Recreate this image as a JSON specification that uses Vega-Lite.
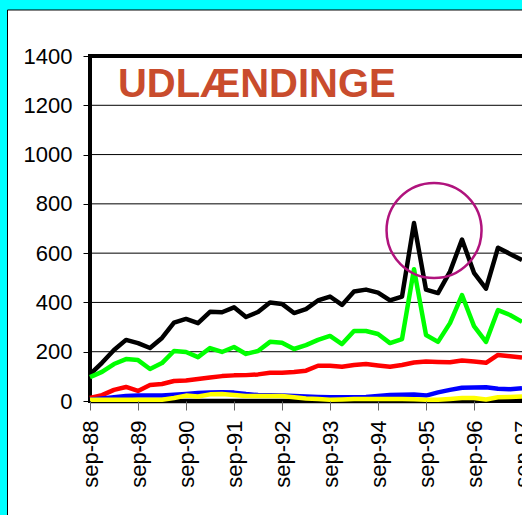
{
  "$schema": "https://vega.github.io/schema/vega-lite/v6.json",
  "width": 432,
  "height": 345,
  "autosize": {"type": "none"},
  "padding": {"left": 90, "top": 56, "right": 0, "bottom": 114},
  "background": "#00ffff",
  "config": {"view": {"stroke": null}, "font": "Liberation Sans"},
  "datasets": {
    "grid": [{"g": 200}, {"g": 400}, {"g": 600}, {"g": 800}, {"g": 1000}, {"g": 1200}],
    "serier": [
      {"serie": "sort", "kvartal": 0, "antal": 108}, {"serie": "sort", "kvartal": 1, "antal": 155}, {"serie": "sort", "kvartal": 2, "antal": 207}, {"serie": "sort", "kvartal": 3, "antal": 248}, {"serie": "sort", "kvartal": 4, "antal": 235}, {"serie": "sort", "kvartal": 5, "antal": 215}, {"serie": "sort", "kvartal": 6, "antal": 256}, {"serie": "sort", "kvartal": 7, "antal": 318}, {"serie": "sort", "kvartal": 8, "antal": 333}, {"serie": "sort", "kvartal": 9, "antal": 316}, {"serie": "sort", "kvartal": 10, "antal": 362}, {"serie": "sort", "kvartal": 11, "antal": 360}, {"serie": "sort", "kvartal": 12, "antal": 380}, {"serie": "sort", "kvartal": 13, "antal": 341}, {"serie": "sort", "kvartal": 14, "antal": 361}, {"serie": "sort", "kvartal": 15, "antal": 400}, {"serie": "sort", "kvartal": 16, "antal": 394}, {"serie": "sort", "kvartal": 17, "antal": 357}, {"serie": "sort", "kvartal": 18, "antal": 373}, {"serie": "sort", "kvartal": 19, "antal": 408}, {"serie": "sort", "kvartal": 20, "antal": 424}, {"serie": "sort", "kvartal": 21, "antal": 390}, {"serie": "sort", "kvartal": 22, "antal": 444}, {"serie": "sort", "kvartal": 23, "antal": 452}, {"serie": "sort", "kvartal": 24, "antal": 440}, {"serie": "sort", "kvartal": 25, "antal": 408}, {"serie": "sort", "kvartal": 26, "antal": 424}, {"serie": "sort", "kvartal": 27, "antal": 722}, {"serie": "sort", "kvartal": 28, "antal": 452}, {"serie": "sort", "kvartal": 29, "antal": 438}, {"serie": "sort", "kvartal": 30, "antal": 525}, {"serie": "sort", "kvartal": 31, "antal": 655}, {"serie": "sort", "kvartal": 32, "antal": 520}, {"serie": "sort", "kvartal": 33, "antal": 456}, {"serie": "sort", "kvartal": 34, "antal": 622}, {"serie": "sort", "kvartal": 35, "antal": 597}, {"serie": "sort", "kvartal": 36, "antal": 572},
      {"serie": "grøn", "kvartal": 0, "antal": 97}, {"serie": "grøn", "kvartal": 1, "antal": 118}, {"serie": "grøn", "kvartal": 2, "antal": 150}, {"serie": "grøn", "kvartal": 3, "antal": 170}, {"serie": "grøn", "kvartal": 4, "antal": 166}, {"serie": "grøn", "kvartal": 5, "antal": 130}, {"serie": "grøn", "kvartal": 6, "antal": 154}, {"serie": "grøn", "kvartal": 7, "antal": 203}, {"serie": "grøn", "kvartal": 8, "antal": 199}, {"serie": "grøn", "kvartal": 9, "antal": 178}, {"serie": "grøn", "kvartal": 10, "antal": 215}, {"serie": "grøn", "kvartal": 11, "antal": 199}, {"serie": "grøn", "kvartal": 12, "antal": 219}, {"serie": "grøn", "kvartal": 13, "antal": 191}, {"serie": "grøn", "kvartal": 14, "antal": 203}, {"serie": "grøn", "kvartal": 15, "antal": 240}, {"serie": "grøn", "kvartal": 16, "antal": 236}, {"serie": "grøn", "kvartal": 17, "antal": 211}, {"serie": "grøn", "kvartal": 18, "antal": 227}, {"serie": "grøn", "kvartal": 19, "antal": 248}, {"serie": "grøn", "kvartal": 20, "antal": 264}, {"serie": "grøn", "kvartal": 21, "antal": 231}, {"serie": "grøn", "kvartal": 22, "antal": 284}, {"serie": "grøn", "kvartal": 23, "antal": 284}, {"serie": "grøn", "kvartal": 24, "antal": 272}, {"serie": "grøn", "kvartal": 25, "antal": 235}, {"serie": "grøn", "kvartal": 26, "antal": 251}, {"serie": "grøn", "kvartal": 27, "antal": 535}, {"serie": "grøn", "kvartal": 28, "antal": 268}, {"serie": "grøn", "kvartal": 29, "antal": 240}, {"serie": "grøn", "kvartal": 30, "antal": 316}, {"serie": "grøn", "kvartal": 31, "antal": 430}, {"serie": "grøn", "kvartal": 32, "antal": 304}, {"serie": "grøn", "kvartal": 33, "antal": 240}, {"serie": "grøn", "kvartal": 34, "antal": 369}, {"serie": "grøn", "kvartal": 35, "antal": 349}, {"serie": "grøn", "kvartal": 36, "antal": 321},
      {"serie": "rød", "kvartal": 0, "antal": 12}, {"serie": "rød", "kvartal": 1, "antal": 24}, {"serie": "rød", "kvartal": 2, "antal": 45}, {"serie": "rød", "kvartal": 3, "antal": 57}, {"serie": "rød", "kvartal": 4, "antal": 41}, {"serie": "rød", "kvartal": 5, "antal": 65}, {"serie": "rød", "kvartal": 6, "antal": 69}, {"serie": "rød", "kvartal": 7, "antal": 81}, {"serie": "rød", "kvartal": 8, "antal": 83}, {"serie": "rød", "kvartal": 9, "antal": 89}, {"serie": "rød", "kvartal": 10, "antal": 95}, {"serie": "rød", "kvartal": 11, "antal": 101}, {"serie": "rød", "kvartal": 12, "antal": 104}, {"serie": "rød", "kvartal": 13, "antal": 105}, {"serie": "rød", "kvartal": 14, "antal": 108}, {"serie": "rød", "kvartal": 15, "antal": 115}, {"serie": "rød", "kvartal": 16, "antal": 115}, {"serie": "rød", "kvartal": 17, "antal": 118}, {"serie": "rød", "kvartal": 18, "antal": 123}, {"serie": "rød", "kvartal": 19, "antal": 143}, {"serie": "rød", "kvartal": 20, "antal": 143}, {"serie": "rød", "kvartal": 21, "antal": 139}, {"serie": "rød", "kvartal": 22, "antal": 146}, {"serie": "rød", "kvartal": 23, "antal": 150}, {"serie": "rød", "kvartal": 24, "antal": 144}, {"serie": "rød", "kvartal": 25, "antal": 139}, {"serie": "rød", "kvartal": 26, "antal": 146}, {"serie": "rød", "kvartal": 27, "antal": 156}, {"serie": "rød", "kvartal": 28, "antal": 160}, {"serie": "rød", "kvartal": 29, "antal": 158}, {"serie": "rød", "kvartal": 30, "antal": 157}, {"serie": "rød", "kvartal": 31, "antal": 164}, {"serie": "rød", "kvartal": 32, "antal": 160}, {"serie": "rød", "kvartal": 33, "antal": 155}, {"serie": "rød", "kvartal": 34, "antal": 187}, {"serie": "rød", "kvartal": 35, "antal": 182}, {"serie": "rød", "kvartal": 36, "antal": 176},
      {"serie": "blå", "kvartal": 0, "antal": 5}, {"serie": "blå", "kvartal": 1, "antal": 10}, {"serie": "blå", "kvartal": 2, "antal": 15}, {"serie": "blå", "kvartal": 3, "antal": 20}, {"serie": "blå", "kvartal": 4, "antal": 22}, {"serie": "blå", "kvartal": 5, "antal": 22}, {"serie": "blå", "kvartal": 6, "antal": 22}, {"serie": "blå", "kvartal": 7, "antal": 25}, {"serie": "blå", "kvartal": 8, "antal": 28}, {"serie": "blå", "kvartal": 9, "antal": 32}, {"serie": "blå", "kvartal": 10, "antal": 35}, {"serie": "blå", "kvartal": 11, "antal": 36}, {"serie": "blå", "kvartal": 12, "antal": 34}, {"serie": "blå", "kvartal": 13, "antal": 28}, {"serie": "blå", "kvartal": 14, "antal": 24}, {"serie": "blå", "kvartal": 15, "antal": 23}, {"serie": "blå", "kvartal": 16, "antal": 22}, {"serie": "blå", "kvartal": 17, "antal": 20}, {"serie": "blå", "kvartal": 18, "antal": 18}, {"serie": "blå", "kvartal": 19, "antal": 16}, {"serie": "blå", "kvartal": 20, "antal": 15}, {"serie": "blå", "kvartal": 21, "antal": 15}, {"serie": "blå", "kvartal": 22, "antal": 15}, {"serie": "blå", "kvartal": 23, "antal": 16}, {"serie": "blå", "kvartal": 24, "antal": 20}, {"serie": "blå", "kvartal": 25, "antal": 24}, {"serie": "blå", "kvartal": 26, "antal": 25}, {"serie": "blå", "kvartal": 27, "antal": 26}, {"serie": "blå", "kvartal": 28, "antal": 22}, {"serie": "blå", "kvartal": 29, "antal": 35}, {"serie": "blå", "kvartal": 30, "antal": 45}, {"serie": "blå", "kvartal": 31, "antal": 54}, {"serie": "blå", "kvartal": 32, "antal": 55}, {"serie": "blå", "kvartal": 33, "antal": 56}, {"serie": "blå", "kvartal": 34, "antal": 50}, {"serie": "blå", "kvartal": 35, "antal": 48}, {"serie": "blå", "kvartal": 36, "antal": 52},
      {"serie": "sort2", "kvartal": 0, "antal": 0}, {"serie": "sort2", "kvartal": 1, "antal": 0}, {"serie": "sort2", "kvartal": 2, "antal": 0}, {"serie": "sort2", "kvartal": 3, "antal": 0}, {"serie": "sort2", "kvartal": 4, "antal": 0}, {"serie": "sort2", "kvartal": 5, "antal": 0}, {"serie": "sort2", "kvartal": 6, "antal": 0}, {"serie": "sort2", "kvartal": 7, "antal": 0}, {"serie": "sort2", "kvartal": 8, "antal": 0}, {"serie": "sort2", "kvartal": 9, "antal": 0}, {"serie": "sort2", "kvartal": 10, "antal": 0}, {"serie": "sort2", "kvartal": 11, "antal": 0}, {"serie": "sort2", "kvartal": 12, "antal": 0}, {"serie": "sort2", "kvartal": 13, "antal": 0}, {"serie": "sort2", "kvartal": 14, "antal": 0}, {"serie": "sort2", "kvartal": 15, "antal": 0}, {"serie": "sort2", "kvartal": 16, "antal": 0}, {"serie": "sort2", "kvartal": 17, "antal": 0}, {"serie": "sort2", "kvartal": 18, "antal": 0}, {"serie": "sort2", "kvartal": 19, "antal": 0}, {"serie": "sort2", "kvartal": 20, "antal": 0}, {"serie": "sort2", "kvartal": 21, "antal": 0}, {"serie": "sort2", "kvartal": 22, "antal": 0}, {"serie": "sort2", "kvartal": 23, "antal": 0}, {"serie": "sort2", "kvartal": 24, "antal": 0}, {"serie": "sort2", "kvartal": 25, "antal": 0}, {"serie": "sort2", "kvartal": 26, "antal": 0}, {"serie": "sort2", "kvartal": 27, "antal": 0}, {"serie": "sort2", "kvartal": 28, "antal": 0}, {"serie": "sort2", "kvartal": 29, "antal": 0}, {"serie": "sort2", "kvartal": 30, "antal": 0}, {"serie": "sort2", "kvartal": 31, "antal": 0}, {"serie": "sort2", "kvartal": 32, "antal": 0}, {"serie": "sort2", "kvartal": 33, "antal": 2}, {"serie": "sort2", "kvartal": 34, "antal": 10}, {"serie": "sort2", "kvartal": 35, "antal": 6}, {"serie": "sort2", "kvartal": 36, "antal": 8},
      {"serie": "gul", "kvartal": 0, "antal": 5}, {"serie": "gul", "kvartal": 1, "antal": 5}, {"serie": "gul", "kvartal": 2, "antal": 5}, {"serie": "gul", "kvartal": 3, "antal": 5}, {"serie": "gul", "kvartal": 4, "antal": 5}, {"serie": "gul", "kvartal": 5, "antal": 5}, {"serie": "gul", "kvartal": 6, "antal": 5}, {"serie": "gul", "kvartal": 7, "antal": 12}, {"serie": "gul", "kvartal": 8, "antal": 22}, {"serie": "gul", "kvartal": 9, "antal": 18}, {"serie": "gul", "kvartal": 10, "antal": 27}, {"serie": "gul", "kvartal": 11, "antal": 28}, {"serie": "gul", "kvartal": 12, "antal": 24}, {"serie": "gul", "kvartal": 13, "antal": 20}, {"serie": "gul", "kvartal": 14, "antal": 20}, {"serie": "gul", "kvartal": 15, "antal": 20}, {"serie": "gul", "kvartal": 16, "antal": 20}, {"serie": "gul", "kvartal": 17, "antal": 15}, {"serie": "gul", "kvartal": 18, "antal": 10}, {"serie": "gul", "kvartal": 19, "antal": 8}, {"serie": "gul", "kvartal": 20, "antal": 5}, {"serie": "gul", "kvartal": 21, "antal": 6}, {"serie": "gul", "kvartal": 22, "antal": 8}, {"serie": "gul", "kvartal": 23, "antal": 8}, {"serie": "gul", "kvartal": 24, "antal": 8}, {"serie": "gul", "kvartal": 25, "antal": 8}, {"serie": "gul", "kvartal": 26, "antal": 8}, {"serie": "gul", "kvartal": 27, "antal": 7}, {"serie": "gul", "kvartal": 28, "antal": 5}, {"serie": "gul", "kvartal": 29, "antal": 5}, {"serie": "gul", "kvartal": 30, "antal": 8}, {"serie": "gul", "kvartal": 31, "antal": 12}, {"serie": "gul", "kvartal": 32, "antal": 12}, {"serie": "gul", "kvartal": 33, "antal": 6}, {"serie": "gul", "kvartal": 34, "antal": 15}, {"serie": "gul", "kvartal": 35, "antal": 16}, {"serie": "gul", "kvartal": 36, "antal": 18}
    ]
  },
  "layer": [
    {
      "data": {"values": [{}]},
      "mark": {"type": "rect", "fill": "white", "stroke": "black", "strokeWidth": 1, "clip": false},
      "encoding": {
        "x": {"datum": -6.875, "type": "quantitative", "scale": {"domain": [0, 36], "nice": false, "zero": false}, "title": null},
        "x2": {"datum": 60},
        "y": {"datum": 1586.7, "type": "quantitative", "scale": {"domain": [0, 1400], "nice": false, "zero": false}, "title": null},
        "y2": {"datum": -900}
      }
    },
    {
      "data": {"name": "grid"},
      "mark": {"type": "rule", "color": "black", "strokeWidth": 1, "clip": false},
      "encoding": {
        "y": {"field": "g", "type": "quantitative", "scale": {"domain": [0, 1400], "nice": false, "zero": false}, "title": null},
        "x": {"datum": 0, "type": "quantitative", "scale": {"domain": [0, 36], "nice": false, "zero": false}, "title": null},
        "x2": {"datum": 60}
      }
    },
    {
      "data": {"values": [{}]},
      "mark": {"type": "rect", "fill": null, "fillOpacity": 0, "stroke": "black", "strokeWidth": 4, "clip": false},
      "encoding": {
        "x": {"datum": 0, "type": "quantitative", "scale": {"domain": [0, 36], "nice": false, "zero": false}, "title": null},
        "x2": {"datum": 60},
        "y": {"datum": 1400, "type": "quantitative", "scale": {"domain": [0, 1400], "nice": false, "zero": false}, "title": null},
        "y2": {"datum": 0}
      }
    },
    {
      "data": {"name": "serier"},
      "mark": {"type": "line", "strokeWidth": 4.5, "strokeJoin": "round", "strokeCap": "butt", "clip": false},
      "encoding": {
        "x": {
          "field": "kvartal", "type": "quantitative",
          "scale": {"domain": [0, 36], "nice": false, "zero": false},
          "title": null,
          "axis": {
            "values": [0, 4, 8, 12, 16, 20, 24, 28, 32, 36],
            "labelExpr": "['sep-88','sep-89','sep-90','sep-91','sep-92','sep-93','sep-94','sep-95','sep-96','sep-97'][round(datum.value/4)]",
            "labelAngle": 270, "labelFontSize": 22, "labelFont": "Liberation Sans", "labelColor": "black",
            "labelPadding": 10, "tickSize": 9, "tickColor": "#666", "tickWidth": 1,
            "grid": false, "domain": false, "labelFlush": false, "labelOverlap": false, "labelBound": false,
            "title": null, "zindex": 1
          }
        },
        "y": {
          "field": "antal", "type": "quantitative",
          "scale": {"domain": [0, 1400], "nice": false, "zero": false},
          "title": null,
          "axis": {
            "values": [0, 200, 400, 600, 800, 1000, 1200, 1400],
            "format": "d",
            "labelFontSize": 22, "labelFont": "Liberation Sans", "labelColor": "black",
            "labelPadding": 11, "tickSize": 7, "tickColor": "black", "tickWidth": 1,
            "grid": false, "domain": false, "title": null, "zindex": 1
          }
        },
        "color": {
          "field": "serie", "type": "nominal",
          "scale": {"domain": ["sort", "grøn", "rød", "blå", "sort2", "gul"], "range": ["#000000", "#00ff00", "#ff0000", "#0000ff", "#000000", "#ffff00"]},
          "legend": null
        }
      }
    },
    {
      "data": {"values": [{}]},
      "mark": {"type": "point", "shape": "circle", "filled": false, "size": 9025, "strokeWidth": 2.5, "color": "#b0137d", "opacity": 1, "clip": false},
      "encoding": {
        "x": {"datum": 28.67, "type": "quantitative", "scale": {"domain": [0, 36], "nice": false, "zero": false}, "title": null},
        "y": {"datum": 692, "type": "quantitative", "scale": {"domain": [0, 1400], "nice": false, "zero": false}, "title": null}
      }
    },
    {
      "data": {"values": [{}]},
      "mark": {"type": "text", "align": "left", "baseline": "alphabetic", "font": "Liberation Sans", "fontWeight": "bold", "fontSize": 40, "color": "#c94c2d", "clip": false},
      "encoding": {
        "x": {"datum": 2.33, "type": "quantitative", "scale": {"domain": [0, 36], "nice": false, "zero": false}, "title": null},
        "y": {"datum": 1234, "type": "quantitative", "scale": {"domain": [0, 1400], "nice": false, "zero": false}, "title": null},
        "text": {"value": "UDLÆNDINGE"}
      }
    }
  ]
}
